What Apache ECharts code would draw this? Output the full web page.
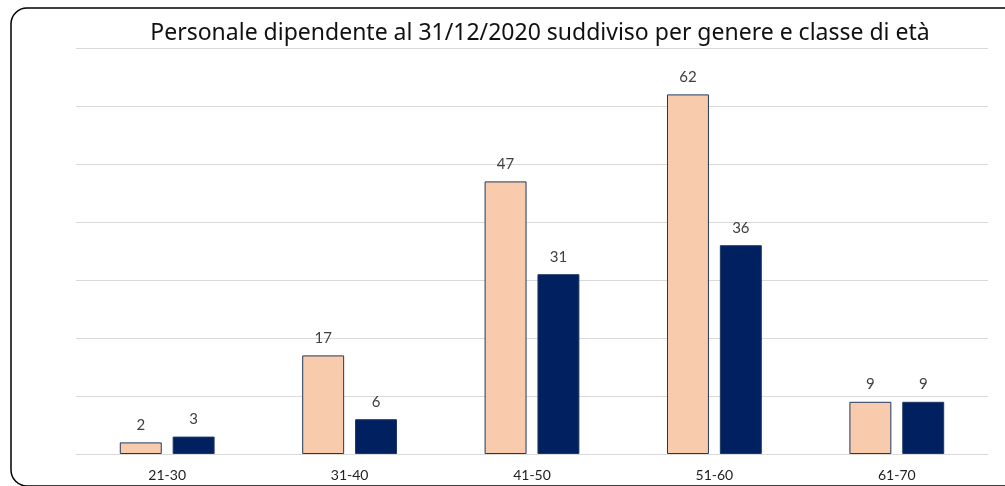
<!DOCTYPE html>
<html>
<head>
<meta charset="utf-8">
<script src="https://cdn.jsdelivr.net/npm/echarts@6/dist/echarts.min.js"></script>
<style>
  html, body { margin: 0; padding: 0; background: #fff; }
  #chart { width: 1005px; height: 486px; }
</style>
</head>
<body>
<div id="chart"></div>
<script>
var classi = ['21-30', '31-40', '41-50', '51-60', '61-70'];
var donne = [2, 17, 47, 62, 9];
var uomini = [3, 6, 31, 36, 9];

var myChart = echarts.init(document.getElementById('chart'));

var labelStyle = {
  show: true,
  position: 'top',
  distance: 10,
  color: '#404040',
  fontSize: 15,
  fontFamily: 'Lato, "Noto Sans", sans-serif'
};

var option = {
  animation: false,
  // cornice arrotondata
  graphic: [{
    type: 'rect',
    shape: { x: 11, y: 8, width: 1010, height: 478, r: 16 },
    style: { fill: 'none', stroke: '#000', lineWidth: 1.5 },
    silent: true
  }],
  title: {
    text: 'Personale dipendente al 31/12/2020 suddiviso per genere e classe di età',
    left: 535,
    textAlign: 'center',
    top: 17,
    textStyle: {
      fontSize: 23,
      fontWeight: 'normal',
      color: '#111',
      fontFamily: '"Noto Sans", sans-serif'
    }
  },
  grid: {
    left: 76,
    right: 17,
    top: 48,
    bottom: 32
  },
  xAxis: {
    type: 'category',
    data: classi,
    axisTick: { show: false },
    axisLine: { lineStyle: { color: '#d9d9d9' } },
    axisLabel: {
      color: '#222',
      fontSize: 14,
      margin: 14,
      fontFamily: 'Lato, "Noto Sans", sans-serif'
    }
  },
  yAxis: {
    type: 'value',
    min: 0,
    max: 70,
    interval: 10,
    axisLabel: { show: false },
    axisLine: { show: false },
    axisTick: { show: false },
    splitLine: { lineStyle: { color: '#d9d9d9', width: 1 } }
  },
  series: [{
    name: 'Donne',
    type: 'bar',
    data: donne,
    barWidth: '23%',
    barGap: '26%',
    itemStyle: { color: '#f8cbad', borderColor: '#1f3864', borderWidth: 1 },
    label: labelStyle
  }, {
    name: 'Uomini',
    type: 'bar',
    data: uomini,
    barWidth: '23%',
    itemStyle: { color: '#002060', borderColor: '#1f3864', borderWidth: 1 },
    label: labelStyle
  }]
};

myChart.setOption(option, true);
</script>
</body>
</html>
